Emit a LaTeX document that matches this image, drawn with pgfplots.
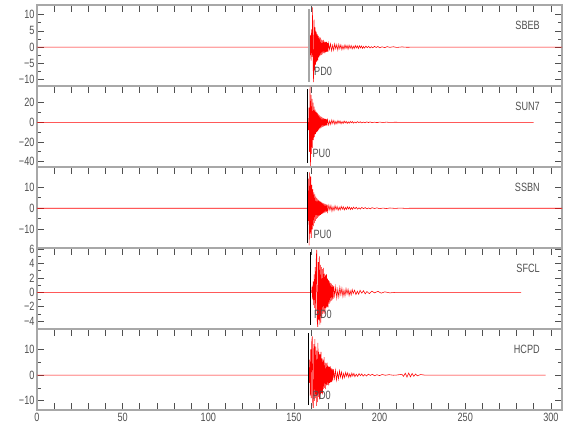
\documentclass[border=0pt]{standalone}
\usepackage{pgfplots}
\pgfplotsset{compat=1.18}
\usepackage{fontspec}
\setmainfont{Liberation Sans}[FakeStretch=0.76]
\definecolor{axgray}{HTML}{A8A8A8}
\definecolor{txtgray}{HTML}{505050}
\pgfplotsset{
  seis/.style={
    scale only axis, width=525pt, height=81pt,
    xmin=0, xmax=306.5, anchor=south west,
    axis line style={axgray, line width=1.6pt},
    tick style={txtgray, line width=0.7pt},
    major tick length=7pt, minor tick length=4pt,
    tick align=inside,
    xtick={0,10,...,300}, xticklabels={},
    xtick pos=right,
    minor y tick num=1,
    ticklabel style={font=\fontsize{12}{12}\selectfont, text=txtgray},
    yticklabel style={xshift=1pt},
    clip=true,
  },
  trace/.style={draw=red, line width=0.55pt, no marks},
  pick/.style={draw=black, line width=0.7pt, no marks},
}
\newcommand{\lbl}[1]{{\fontsize{12}{12}\selectfont\color{txtgray}#1}}
\begin{document}
\begin{tikzpicture}
\useasboundingbox (0,0) rectangle (580pt,440pt);
% ---------------- SBEB
\begin{axis}[seis, at={(37pt,354pt)}, ymin=-12, ymax=13,
  ytick={-10,-5,0,5,10}, yticklabels={−10,−5,0,5,10}]
\addplot[trace] coordinates {(0,0) (158.8,0) (159.1,1.5) (159.4,-2.5) (159.7,3.8) (160.0,-4.2) (160.3,5.5) (160.6,-3) (160.9,12.3) (161.2,-6) (161.5,-10.8) (161.8,8.5) (162.1,-7.2) (162.4,6.1) (162.7,-5.4) (163.0,4.8) (163.3,-4.5) (163.6,3.9) (163.9,-4.1) (164.2,3.5) (164.5,-3.2) (164.8,3.0) (165.1,-2.8) (165.4,2.9) (165.7,-2.5) (166.0,2.3) (166.3,-2.4) (166.6,2.1) (166.9,-2.0) (167.2,2.2) (167.5,-1.8) (167.8,1.7) (168.1,-1.9) (168.4,1.6) (168.7,-1.5) (169.0,1.6) (169.3,-1.4) (169.6,1.3) (169.9,-1.4) (170.2,1.2) (170.8,-0.7) (171.4,1.0) (172.0,-1.1) (172.6,0.6) (173.2,-0.9) (173.8,1.0) (174.4,-0.5) (175.0,0.75) (175.6,-0.9) (176.2,0.85) (176.8,-0.5) (177.4,0.7) (178.0,-0.8) (178.6,0.4) (179.2,-0.65) (179.8,0.7) (180.4,-0.4) (181.0,0.55) (181.6,-0.65) (182.2,0.6) (182.8,-0.35) (183.4,0.5) (184.0,-0.55) (184.6,0.3) (185.2,-0.45) (185.8,0.5) (186.4,-0.25) (187.0,0.4) (187.6,-0.45) (188.2,0.4) (188.8,-0.25) (189.4,0.35) (190.0,-0.38) (190.6,0.2) (191.2,-0.3) (192.0,0.3) (192.8,-0.18) (193.6,0.26) (194.4,-0.28) (195.2,0.15) (196.0,-0.22) (197.0,0.24) (198.0,-0.12) (199.0,0.2) (200.0,-0.2) (201.5,0.1) (203,-0.16) (204.5,0.15) (206,-0.08) (208,0.12) (210,-0.1) (213,0.06) (216,-0.05) (220,0) (306.5,0)};
\addplot[draw=gray!70, line width=1.4pt, no marks] coordinates {(158.8,-10.8) (158.8,11.8)};
\node[anchor=west, inner sep=0pt] at (axis cs:161.7,-7.4) {\lbl{PD0}};
\node[anchor=east, inner sep=0pt] at (rel axis cs:0.958,0.75) {\lbl{SBEB}};
\end{axis}
% ---------------- SUN7
\begin{axis}[seis, at={(37pt,273pt)}, ymin=-45.5, ymax=37,
  ytick={-40,-20,0,20}, yticklabels={−40,−20,0,20}]
\addplot[trace] coordinates {(0,0) (158.2,0) (158.5,-8) (158.8,15) (159.1,-30) (159.4,36) (159.7,-45) (160.0,28) (160.3,-32) (160.6,24) (160.9,-26) (161.2,20) (161.5,-18) (161.8,16) (162.1,-15) (162.4,13) (162.7,-12) (163.0,11) (163.3,-10) (163.6,9.5) (163.9,-9) (164.2,8) (164.5,-7.5) (164.8,7) (165.1,-6.5) (165.4,6) (165.7,-5.8) (166.0,5.5) (166.3,-5) (166.6,4.8) (166.9,-4.5) (167.2,4.2) (167.5,-4) (167.8,3.8) (168.1,-3.6) (168.4,3.4) (168.7,-3.2) (169.0,3.1) (169.3,-3) (169.6,2.8) (170.3,-2.7) (170.9,1.6) (171.5,-2.2) (172.1,2.4) (172.7,-1.3) (173.3,2.0) (173.9,-2.1) (174.5,1.0) (175.1,-1.6) (175.7,1.8) (176.3,-0.9) (176.9,1.4) (177.5,-1.5) (178.1,0.8) (178.7,-1.2) (179.3,1.3) (179.9,-0.6) (180.5,1.0) (181.1,-1.1) (181.7,0.5) (182.3,-0.9) (182.9,0.9) (183.5,-0.45) (184.1,0.8) (184.7,-0.8) (185.5,0.4) (186.3,-0.65) (187.1,0.7) (187.9,-0.35) (188.7,0.55) (189.5,-0.6) (190.5,0.3) (191.5,-0.45) (192.5,0.45) (193.5,-0.25) (194.5,0.4) (195.5,-0.35) (197,0.2) (198.5,-0.3) (200,0.25) (202,-0.15) (204,0.2) (206,-0.1) (209,0.1) (212,0) (290,0)};
\addplot[pick] coordinates {(158.0,-41.4) (158.0,33.9)};
\node[anchor=west, inner sep=0pt] at (axis cs:160.8,-31.5) {\lbl{PU0}};
\node[anchor=east, inner sep=0pt] at (rel axis cs:0.958,0.75) {\lbl{SUN7}};
\end{axis}
% ---------------- SSBN
\begin{axis}[seis, at={(37pt,192pt)}, ymin=-18.8, ymax=19.5,
  ytick={-10,0,10}, yticklabels={−10,0,10}]
\addplot[trace] coordinates {(0,0) (158.0,0) (158.3,-6) (158.6,14) (158.9,-17.5) (159.2,17) (159.5,-12) (159.8,15) (160.1,-14) (160.4,11) (160.7,-10) (161.0,9) (161.3,-8.5) (161.6,7.5) (161.9,-7) (162.2,6.5) (162.5,-6) (162.8,5.5) (163.1,-5) (163.4,4.8) (163.7,-4.5) (164.0,4.2) (164.3,-4) (164.6,3.8) (164.9,-3.5) (165.2,3.3) (165.5,-3.1) (165.8,3.0) (166.1,-2.8) (166.4,2.6) (166.7,-2.5) (167.0,2.4) (167.3,-2.3) (167.6,2.2) (167.9,-2.1) (168.2,2.0) (168.5,-1.9) (168.8,1.8) (169.1,-1.7) (169.4,1.7) (169.7,-1.6) (170.4,1.5) (171.0,-0.9) (171.6,1.3) (172.2,-1.4) (172.8,0.7) (173.4,-1.1) (174.0,1.2) (174.6,-0.6) (175.2,0.9) (175.8,-1.0) (176.4,0.5) (177.0,-0.8) (177.6,0.9) (178.2,-0.45) (178.8,0.7) (179.4,-0.8) (180.0,0.4) (180.6,-0.6) (181.2,0.7) (181.8,-0.35) (182.4,0.55) (183.0,-0.6) (183.6,0.3) (184.2,-0.5) (184.8,0.5) (185.6,-0.25) (186.4,0.45) (187.2,-0.45) (188.0,0.2) (188.8,-0.38) (189.6,0.4) (190.6,-0.2) (191.6,0.32) (192.6,-0.3) (193.6,0.15) (194.6,-0.27) (195.6,0.25) (197,-0.12) (198.5,0.2) (200,-0.2) (202,0.1) (204,-0.15) (206,0.12) (209,-0.07) (212,0.08) (215,-0.05) (218,0) (306.5,0)};
\addplot[pick] coordinates {(157.8,-16.4) (157.8,17.3)};
\node[anchor=west, inner sep=0pt] at (axis cs:161.4,-12.2) {\lbl{PU0}};
\node[anchor=east, inner sep=0pt] at (rel axis cs:0.958,0.75) {\lbl{SSBN}};
\end{axis}
% ---------------- SFCL
\begin{axis}[seis, at={(37pt,111pt)}, ymin=-5.1, ymax=6.15,
  ytick={-4,-2,0,2,4,6}, yticklabels={−4,−2,0,2,4,6}]
\addplot[trace] coordinates {(0,0) (160.3,0) (160.6,0.8) (160.9,-1.0) (161.2,1.5) (161.5,-1.8) (161.8,2.5) (162.1,-2.2) (162.4,3.5) (162.7,-3.0) (163.0,4.5) (163.3,5.9) (163.6,-4.0) (163.9,-4.8) (164.2,4.2) (164.5,-3.8) (164.8,5.0) (165.1,-4.5) (165.4,3.8) (165.7,-4.2) (166.0,3.5) (166.3,-3.6) (166.6,3.2) (166.9,-3.0) (167.2,3.4) (167.5,-2.8) (167.8,2.6) (168.1,-3.0) (168.4,2.4) (168.7,-2.2) (169.0,2.5) (169.3,-2.0) (169.6,1.9) (169.9,-2.1) (170.2,1.7) (170.5,-1.6) (170.8,1.5) (171.1,-1.4) (171.4,1.3) (171.7,-1.2) (172.0,1.2) (172.3,-1.1) (172.6,1.0) (172.9,-0.9) (173.2,0.9) (173.8,-0.5) (174.4,0.75) (175.0,-0.8) (175.6,0.4) (176.2,-0.65) (176.8,0.7) (177.4,-0.35) (178.0,0.55) (178.6,-0.6) (179.2,0.3) (179.8,-0.5) (180.4,0.5) (181.0,-0.25) (181.6,0.42) (182.2,-0.45) (182.8,0.22) (183.4,-0.36) (184.0,0.38) (184.6,-0.18) (185.4,0.3) (186.2,-0.32) (187.0,0.15) (187.8,-0.26) (188.6,0.27) (189.6,-0.12) (190.6,0.22) (191.6,-0.22) (192.6,0.1) (194,-0.18) (195.5,0.16) (197,-0.08) (199,0.13) (201,-0.12) (203,0.06) (206,-0.08) (210,0) (282.7,0)};
\addplot[pick] coordinates {(159.8,-4.5) (159.8,5.6)};
\node[anchor=west, inner sep=0pt] at (axis cs:161.6,-3.0) {\lbl{PD0}};
\node[anchor=east, inner sep=0pt] at (rel axis cs:0.958,0.75) {\lbl{SFCL}};
\end{axis}
% ---------------- HCPD
\begin{axis}[seis, at={(37pt,30pt)}, ymin=-13.6, ymax=17.9,
  ytick={-10,0,10}, yticklabels={−10,0,10}, xtick pos=both,
  xticklabels={0,,,,,50,,,,,100,,,,,150,,,,,200,,,,,250,,,,,300}]
\addplot[trace] coordinates {(0,0) (158.6,0) (158.9,-3) (159.2,6) (159.5,-8) (159.8,10) (160.1,-9) (160.4,13) (160.7,15) (161.0,-11) (161.3,-12.8) (161.6,12) (161.9,-10) (162.2,14) (162.5,-9) (162.8,11) (163.1,-12) (163.4,9.5) (163.7,-10.5) (164.0,12.5) (164.3,-8.5) (164.6,9) (164.9,-9.5) (165.2,8) (165.5,-7.5) (165.8,9) (166.1,-7) (166.4,6.5) (166.7,-7.5) (167.0,6) (167.3,-5.5) (167.6,7) (167.9,-5) (168.2,4.8) (168.5,-5.5) (168.8,4.5) (169.1,-4) (169.4,4.8) (169.7,-3.8) (170.0,3.5) (170.3,-4) (170.6,3.2) (170.9,-3) (171.2,3.4) (171.5,-2.8) (171.8,2.6) (172.1,-2.8) (172.4,2.4) (172.7,-2.2) (173.0,2.3) (173.6,-1.3) (174.2,1.9) (174.8,-2.0) (175.4,1.0) (176.0,-1.5) (176.6,1.6) (177.2,-0.8) (177.8,1.2) (178.4,-1.3) (179.0,0.6) (179.6,-1.0) (180.2,1.05) (180.8,-0.5) (181.4,0.85) (182.0,-0.9) (182.6,0.45) (183.2,-0.7) (183.8,0.75) (184.4,-0.38) (185.0,0.6) (185.6,-0.65) (186.4,0.3) (187.2,-0.5) (188.0,0.55) (188.8,-0.25) (189.6,0.45) (190.4,-0.45) (191.4,0.2) (192.4,-0.38) (193.4,0.35) (194.6,-0.16) (195.8,0.3) (197,-0.28) (198.5,0.12) (200,-0.22) (201.5,0.2) (203.5,-0.1) (205.5,0.15) (208,-0.08) (210,0) (213,0.3) (214,-0.5) (215,0.7) (216,-0.8) (217,0.8) (218,-0.7) (219,0.6) (220,-0.5) (221,0.4) (222,-0.3) (224,0.2) (226,0) (297,0)};
\addplot[pick] coordinates {(158.4,-11.7) (158.4,16.2)};
\node[anchor=west, inner sep=0pt] at (axis cs:161.0,-7.8) {\lbl{PD0}};
\node[anchor=east, inner sep=0pt] at (rel axis cs:0.958,0.75) {\lbl{HCPD}};
\end{axis}
\end{tikzpicture}
\end{document}
